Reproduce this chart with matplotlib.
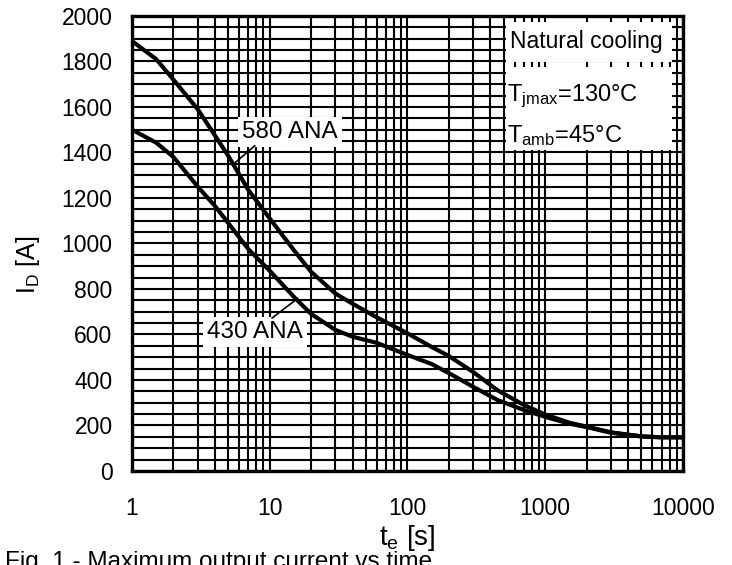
import matplotlib
matplotlib.use("Agg")
import matplotlib.pyplot as plt
from matplotlib.ticker import FixedLocator, MultipleLocator, LogLocator, NullFormatter
from matplotlib.patches import Rectangle

plt.rcParams['font.family'] = ['Liberation Sans', 'DejaVu Sans']
plt.rcParams['mathtext.fontset'] = 'custom'
plt.rcParams['mathtext.rm'] = 'Liberation Sans'
plt.rcParams['mathtext.it'] = 'Liberation Sans'

# Valores (tempo em s, corrente em A)
t_580 = [1, 1.5, 2, 3, 4, 5, 7, 10, 15, 20, 30, 40, 60, 100, 150, 200, 300, 450,
         700, 1000, 1500, 2000, 3000, 5000, 7000, 10000]
i_580 = [1890, 1810, 1720, 1590, 1475, 1385, 1235, 1110, 970, 875, 780, 735, 675,
         605, 545, 505, 435, 355, 290, 248, 212, 195, 170, 152, 148, 148]

t_430 = [1, 1.5, 2, 3, 4, 5, 7, 10, 15, 20, 30, 40, 60, 100, 150, 200, 300, 450,
         700, 1000, 1500, 2000, 3000, 5000, 7000, 10000]
i_430 = [1500, 1443, 1380, 1250, 1165, 1090, 975, 880, 765, 690, 620, 590, 563,
         510, 470, 430, 370, 312, 268, 238, 208, 193, 168, 152, 148, 148]

x_ticks = [1, 10, 100, 1000, 10000]
x_labels = ["1", "10", "100", "1000", "10000"]
y_ticks = list(range(0, 2001, 200))

fig = plt.figure(figsize=(7.32, 5.65), dpi=100)
ax = fig.add_axes([0.1803, 0.1664, 0.7527, 0.8053])

ax.set_xscale("log")
ax.set_xlim(1, 10000)
ax.set_ylim(0, 2000)

ax.xaxis.set_major_locator(FixedLocator(x_ticks))
ax.set_xticklabels(x_labels)
ax.xaxis.set_minor_locator(LogLocator(base=10, subs=range(2, 10)))
ax.xaxis.set_minor_formatter(NullFormatter())
ax.yaxis.set_major_locator(FixedLocator(y_ticks))
ax.yaxis.set_minor_locator(MultipleLocator(50))

ax.grid(True, which="both", color="black", linewidth=1.5)
ax.set_axisbelow(True)
ax.tick_params(which="both", length=0)
ax.tick_params(axis="x", pad=19, labelsize=16.5)
ax.tick_params(axis="y", pad=14, labelsize=16.5)
for s in ax.spines.values():
    s.set_linewidth(2.4)

# Curvas
ax.plot(t_580, i_580, color="black", linewidth=3, zorder=3)
ax.plot(t_430, i_430, color="black", linewidth=3, zorder=3)

# Rótulos das curvas
ax.text(0.287, 0.745, "580 ANA", transform=ax.transAxes, fontsize=17.5,
        ha="center", va="center", zorder=4,
        bbox=dict(facecolor="white", edgecolor="none", pad=3))
ax.annotate("", xy=(5.6, 1355), xytext=(0.223, 0.715), textcoords="axes fraction",
            arrowprops=dict(arrowstyle="-", color="black", linewidth=1.2,
                            shrinkA=0, shrinkB=0), zorder=4)
ax.text(0.223, 0.305, "430 ANA", transform=ax.transAxes, fontsize=17.5,
        ha="center", va="center", zorder=4,
        bbox=dict(facecolor="white", edgecolor="none", pad=3))
ax.annotate("", xy=(16, 759), xytext=(0.254, 0.336), textcoords="axes fraction",
            arrowprops=dict(arrowstyle="-", color="black", linewidth=1.2,
                            shrinkA=0, shrinkB=0), zorder=4)

# Caixas de condições
ax.add_patch(Rectangle((0.679, 0.899), 0.301, 0.087, transform=ax.transAxes,
                       facecolor="white", edgecolor="none", zorder=4))
ax.add_patch(Rectangle((0.679, 0.706), 0.301, 0.182, transform=ax.transAxes,
                       facecolor="white", edgecolor="none", zorder=4))
ax.text(0.686, 0.944, "Natural cooling", transform=ax.transAxes, fontsize=16.5,
        ha="left", va="center", zorder=5)
ax.text(0.680, 0.824, r"T$_{\rm jmax}$=130°C", transform=ax.transAxes, fontsize=17,
        ha="left", va="center", zorder=5)
ax.text(0.680, 0.737, r"T$_{\rm amb}$=45°C", transform=ax.transAxes, fontsize=17,
        ha="left", va="center", zorder=5)

ax.set_xlabel(r"t$_{\rm e}$ [s]", fontsize=20, labelpad=2)
ax.set_ylabel(r"I$_{\rm D}$ [A]", fontsize=18)
ax.yaxis.set_label_coords(-0.163, 0.452)

fig.text(0.007, 0.024, "Fig. 1 - Maximum output current vs time", fontsize=17.5,
         ha="left", va="top")

fig.savefig("out.png", dpi=100)
plt.close(fig)
